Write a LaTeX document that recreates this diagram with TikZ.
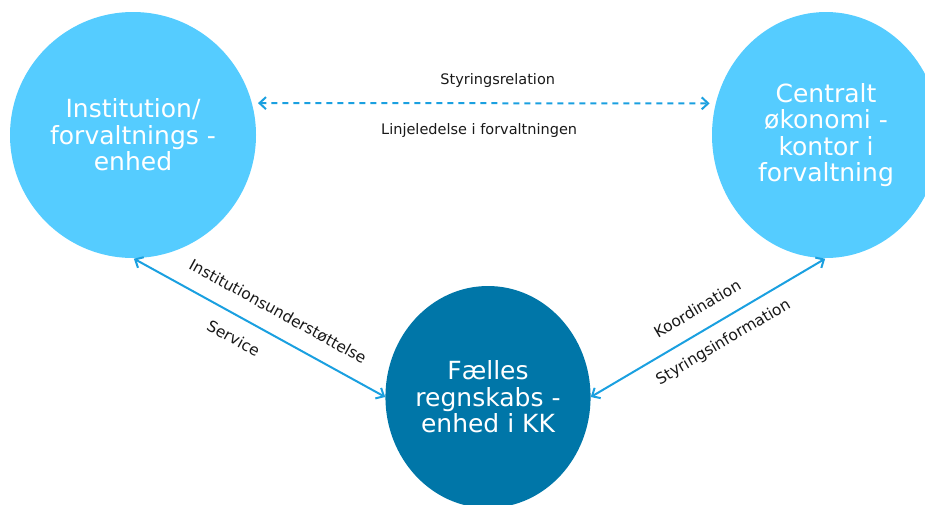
\documentclass[tikz,border=0pt]{standalone}
\usepackage{fontspec}
\setmainfont{DejaVu Sans}
\usetikzlibrary{shapes.geometric,arrows.meta}
\definecolor{lightblue}{RGB}{85,204,255}
\definecolor{darkblue}{RGB}{0,118,168}
\definecolor{arrowblue}{RGB}{26,160,224}

\begin{document}
\begin{tikzpicture}[x=1pt,y=-1pt,
	unit/.style={ellipse,inner sep=0pt,text=white,align=center,font=\fontsize{25}{26.5}\selectfont},
	link/.style={draw=arrowblue,line width=2pt,{Straight Barb[length=6.5pt,width=12pt]}-{Straight Barb[length=6.5pt,width=12pt]}},
	lbl/.style={inner sep=0pt,text=black!90,font=\fontsize{14.5}{16}\selectfont},
	slbl/.style={sloped,inner sep=0pt,text=black!90,font=\fontsize{15.5}{17}\selectfont}]
	\useasboundingbox (0,0) rectangle (925,504);
	\clip (0,0) rectangle (925,504);
	% the three units
	\node[unit,fill=lightblue,minimum width=246pt,minimum height=246pt] (inst) at (133,135) {Institution/\\forvaltnings -\\enhed};
	\node[unit,fill=lightblue,minimum width=228pt,minimum height=246pt] (central) at (826,135) {Centralt\\økonomi -\\kontor i\\forvaltning};
	\node[unit,fill=darkblue,minimum width=192pt,minimum height=222pt] (faelles) at (488,397) {Fælles\\regnskabs -\\enhed i KK};
	% relations
	\draw [link,dashed,dash pattern=on 6pt off 5pt,shorten <=6pt,shorten >=6pt] (inst.15) -- (central.164)
		node [lbl,above=15pt,pos=.53] {Styringsrelation}
		node [lbl,below=19pt,pos=.49] {Linjeledelse i forvaltningen};
	\draw [link,shorten <=1pt] (inst.south) -- (faelles.west)
		node [slbl,above=16pt,pos=.53] {Institutionsunderstøttelse}
		node [slbl,below=14.5pt,pos=.44] {Service};
	\draw [link,shorten >=1pt] (faelles.east) -- (central.south)
		node [slbl,above=15pt,pos=.5] {Koordination}
		node [slbl,below=12pt,pos=.52] {Styringsinformation};
\end{tikzpicture}
\end{document}
